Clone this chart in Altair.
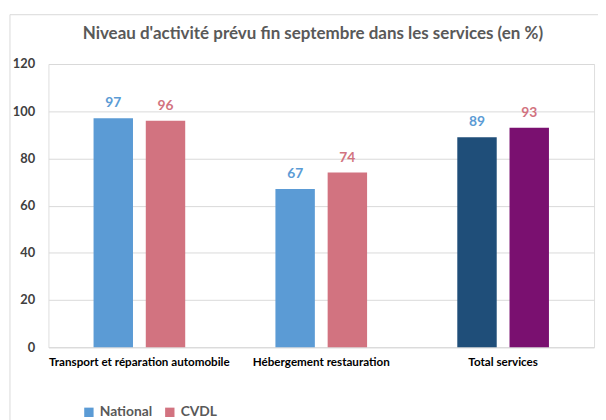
import altair as alt
import pandas as pd

categories = ["Transport et réparation automobile", "Hébergement restauration", "Total services"]
series = ["National", "CVDL"]
national = [97, 67, 89]
cvdl = [96, 74, 93]
title_text = "Niveau d'activité prévu fin septembre dans les services (en %)"

rows = []
for c, n, v in zip(categories, national, cvdl):
    rows.append({"categorie": c, "serie": "National", "valeur": n})
    rows.append({"categorie": c, "serie": "CVDL", "valeur": v})
df = pd.DataFrame(rows)

FONT = "Lato, sans-serif"

base = alt.Chart(df).transform_calculate(
    cle="datum.categorie === 'Total services' ? datum.serie + ' total' : datum.serie"
)

x_enc = alt.X("categorie:N", sort=categories,
              scale=alt.Scale(paddingInner=0.496, paddingOuter=0.248),
              axis=alt.Axis(title=None, labelAngle=0, labelFont=FONT, labelFontSize=11.8,
                            labelFontWeight="bold", labelColor="#000000", labelPadding=10,
                            labelLimit=0, ticks=False, domain=True, domainColor="#d9d9d9", grid=False))
xo_enc = alt.XOffset("serie:N", sort=series,
                     scale=alt.Scale(paddingInner=0.245, paddingOuter=0))
y_enc = alt.Y("valeur:Q", scale=alt.Scale(domain=[0, 120]),
              axis=alt.Axis(title=None, values=[0, 20, 40, 60, 80, 100, 120],
                            labelFont=FONT, labelFontSize=13, labelFontWeight="bold",
                            labelColor="#404040", labelPadding=14, ticks=False, domain=False,
                            gridColor="#d9d9d9"))

bars = base.mark_bar().encode(
    x=x_enc, xOffset=xo_enc, y=y_enc,
    color=alt.Color("cle:N",
                    scale=alt.Scale(domain=["National", "CVDL", "National total", "CVDL total"],
                                    range=["#5B9BD5", "#D27380", "#1F4E79", "#7A1070"]),
                    legend=alt.Legend(title=None, values=["National", "CVDL"], orient="none",
                                      legendX=34, legendY=346, direction="horizontal",
                                      symbolType="square", symbolSize=90, symbolStrokeWidth=0,
                                      labelFont=FONT, labelFontSize=14, labelFontWeight="bold",
                                      labelColor="#595959", columnPadding=10, padding=0,
                                      labelOffset=4)),
)

labels = base.mark_text(baseline="bottom", dy=-8, font=FONT, fontSize=14, fontWeight="bold").encode(
    x=alt.X("categorie:N", sort=categories), xOffset=alt.XOffset("serie:N", sort=series), y="valeur:Q",
    text=alt.Text("valeur:Q"),
    color=alt.Color("serie:N", scale=alt.Scale(domain=series, range=["#5B9BD5", "#D27380"]), legend=None),
)

deco = pd.DataFrame({"t": [title_text]})

border = alt.Chart(deco).mark_rect(fill=None, stroke="#d9d9d9", strokeWidth=1).encode(
    x=alt.value(-39), x2=alt.value(600), y=alt.value(-50), y2=alt.value(400)
)

title = alt.Chart(deco).mark_text(font=FONT, fontSize=17.2, fontWeight="bold", color="#595959",
                                  align="center", baseline="alphabetic").encode(
    x=alt.value(268), y=alt.value(-25), text="t:N"
)

chart = alt.layer(border, bars, labels, title).resolve_scale(color="independent").properties(
    width=553, height=287,
    autosize=alt.AutoSizeParams(type="none"),
    padding={"left": 41, "top": 54, "right": 4, "bottom": 71},
).configure_view(stroke=None).configure(background="white")

chart.save("out.html", embed_options={"renderer": "svg", "actions": False})
